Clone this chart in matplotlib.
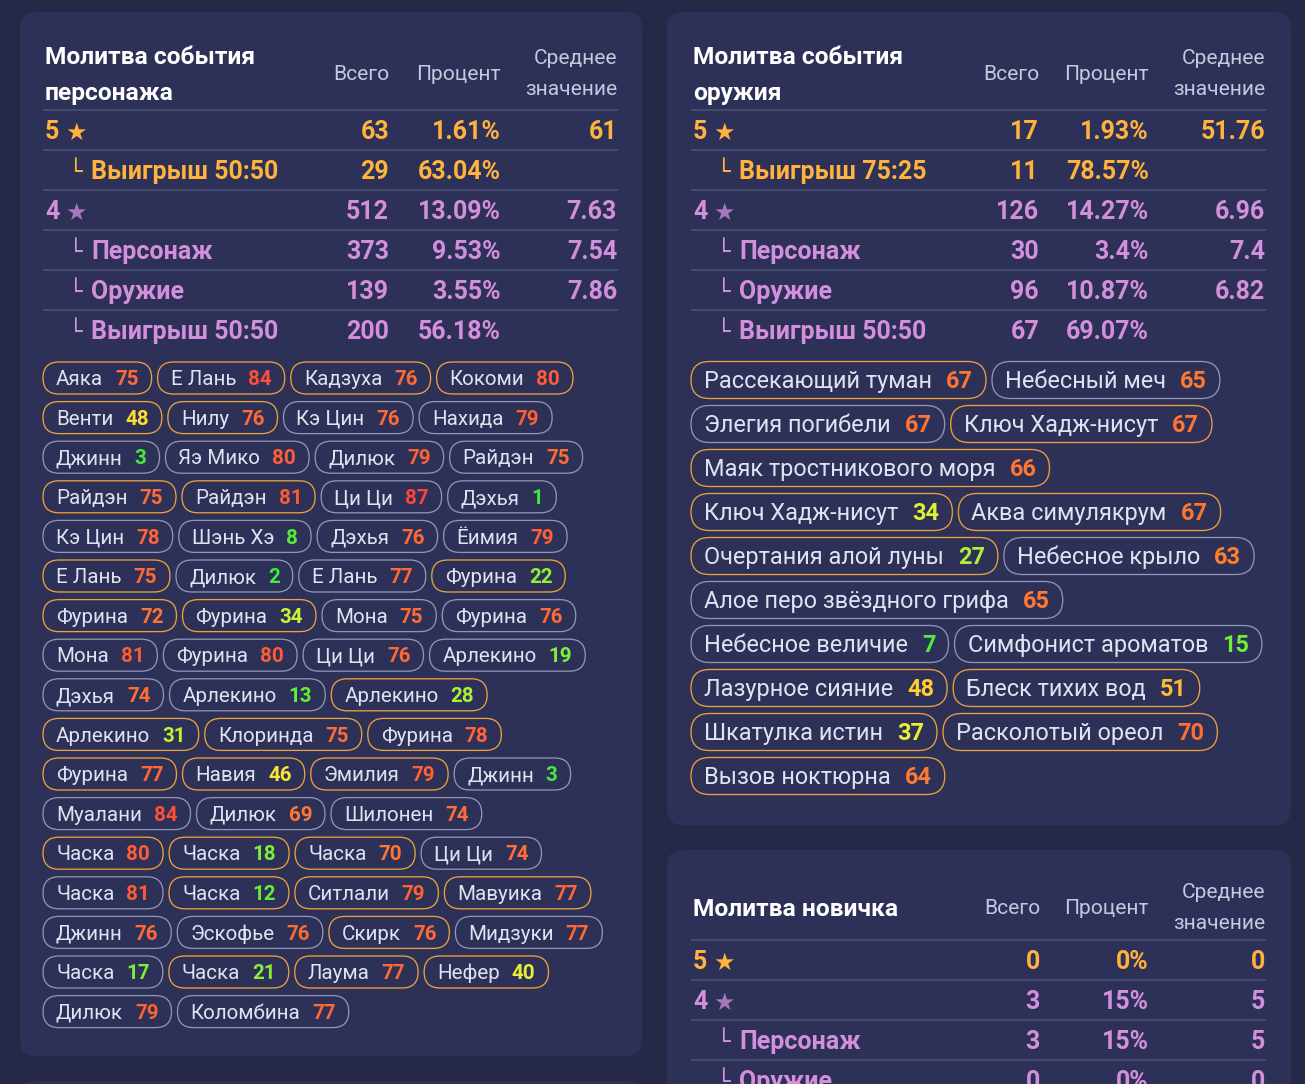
import matplotlib
matplotlib.use("Agg")
import matplotlib.pyplot as plt
from matplotlib.patches import FancyBboxPatch
from matplotlib.colors import LinearSegmentedColormap
from matplotlib.textpath import TextPath
from matplotlib.font_manager import FontProperties
from matplotlib.path import Path
from matplotlib.transforms import Bbox

# ---- data ----
col_headers = ["Всего", "Процент", "Среднее\nзначение"]

char_title = "Молитва события\nперсонажа"
char_labels = ["5", "Выигрыш 50:50", "4", "Персонаж", "Оружие", "Выигрыш 50:50"]
char_tiers = [5, 5, 4, 4, 4, 4]
char_sub = [False, True, False, True, True, True]
char_total = [63, 29, 512, 373, 139, 200]
char_pct = [1.61, 63.04, 13.09, 9.53, 3.55, 56.18]
char_avg = [61, None, 7.63, 7.54, 7.86, None]

weap_title = "Молитва события\nоружия"
weap_labels = ["5", "Выигрыш 75:25", "4", "Персонаж", "Оружие", "Выигрыш 50:50"]
weap_tiers = [5, 5, 4, 4, 4, 4]
weap_sub = [False, True, False, True, True, True]
weap_total = [17, 11, 126, 30, 96, 67]
weap_pct = [1.93, 78.57, 14.27, 3.4, 10.87, 69.07]
weap_avg = [51.76, None, 6.96, 7.4, 6.82, None]

nov_title = "Молитва новичка"
nov_labels = ["5", "4", "Персонаж", "Оружие"]
nov_tiers = [5, 4, 4, 4]
nov_sub = [False, False, True, True]
nov_total = [0, 3, 3, 0]
nov_pct = [0, 15, 15, 0]
nov_avg = [0, 5, 5, 0]

char_pull_names = [
    "Аяка", "Е Лань", "Кадзуха", "Кокоми", "Венти", "Нилу", "Кэ Цин", "Нахида",
    "Джинн", "Яэ Мико", "Дилюк", "Райдэн", "Райдэн", "Райдэн", "Ци Ци", "Дэхья",
    "Кэ Цин", "Шэнь Хэ", "Дэхья", "Ёимия", "Е Лань", "Дилюк", "Е Лань", "Фурина",
    "Фурина", "Фурина", "Мона", "Фурина", "Мона", "Фурина", "Ци Ци", "Арлекино",
    "Дэхья", "Арлекино", "Арлекино", "Арлекино", "Клоринда", "Фурина",
    "Фурина", "Навия", "Эмилия", "Джинн", "Муалани", "Дилюк", "Шилонен",
    "Часка", "Часка", "Часка", "Ци Ци", "Часка", "Часка", "Ситлали", "Мавуика",
    "Джинн", "Эскофье", "Скирк", "Мидзуки", "Часка", "Часка", "Лаума", "Нефер",
    "Дилюк", "Коломбина",
]
char_pull_counts = [
    75, 84, 76, 80, 48, 76, 76, 79,
    3, 80, 79, 75, 75, 81, 87, 1,
    78, 8, 76, 79, 75, 2, 77, 22,
    72, 34, 75, 76, 81, 80, 76, 19,
    74, 13, 28, 31, 75, 78,
    77, 46, 79, 3, 84, 69, 74,
    80, 18, 70, 74, 81, 12, 79, 77,
    76, 76, 76, 77, 17, 21, 77, 40,
    79, 77,
]
char_pull_won = [
    1, 1, 1, 1, 1, 1, 0, 0,
    0, 0, 0, 0, 1, 1, 0, 0,
    0, 0, 0, 0, 1, 0, 0, 1,
    1, 1, 0, 0, 0, 0, 0, 0,
    0, 0, 1, 1, 1, 1,
    1, 1, 1, 0, 0, 0, 0,
    1, 1, 1, 0, 0, 1, 1, 1,
    0, 0, 1, 0, 0, 1, 1, 1,
    0, 0,
]
# how many pulls share each line of the list
char_pull_rows = [4, 4, 4, 4, 4, 4, 4, 4, 3, 3, 4, 3, 4, 4, 4, 4, 2]

weap_pull_names = [
    "Рассекающий туман", "Небесный меч", "Элегия погибели", "Ключ Хадж-нисут",
    "Маяк тростникового моря", "Ключ Хадж-нисут", "Аква симулякрум",
    "Очертания алой луны", "Небесное крыло", "Алое перо звёздного грифа",
    "Небесное величие", "Симфонист ароматов", "Лазурное сияние", "Блеск тихих вод",
    "Шкатулка истин", "Расколотый ореол", "Вызов ноктюрна",
]
weap_pull_counts = [67, 65, 67, 67, 66, 34, 67, 27, 63, 65, 7, 15, 48, 51, 37, 70, 64]
weap_pull_won = [1, 0, 0, 1, 1, 1, 1, 1, 0, 0, 0, 0, 1, 1, 1, 1, 1]
weap_pull_rows = [2, 2, 1, 2, 2, 1, 2, 2, 2, 1]

# ---- style ----
BG = "#252947"
PANEL = "#2d3157"
GOLD = "#ffb23c"
PURPLE = "#d48fdc"
STAR4 = "#a677bd"
HEAD = "#c3c9de"
LINE = "#474d70"
PILL_TXT = "#dfe3f1"
EDGE_WON = "#eca23c"
EDGE_LOST = "#9096b5"
FONT = ["Roboto", "DejaVu Sans"]
PT = 0.72  # pixel -> point at dpi 100

num_cmap = LinearSegmentedColormap.from_list("pity", [
    (0.0, "#3ee83e"), (0.15, "#66ee38"), (0.3, "#a6f035"), (0.42, "#e6f232"),
    (0.52, "#ffe232"), (0.62, "#ffb232"), (0.75, "#ff7a30"), (0.85, "#ff6a34"),
    (0.95, "#ff4a38"), (1.0, "#ff3a3a"),
])

W, H = 1305, 1084
fig = plt.figure(figsize=(W / 100, H / 100), dpi=100)
fig.patch.set_facecolor(BG)
ax = fig.add_axes([0, 0, 1, 1])
ax.set_xlim(0, W)
ax.set_ylim(H, 0)
ax.axis("off")
renderer = fig.canvas.get_renderer()


def ink(ch):
    # ink box of a glyph in em units (closing vertices left out)
    p = TextPath((0, 0), ch, size=1, prop=FontProperties(family="DejaVu Sans"))
    keep = p.codes != Path.CLOSEPOLY
    return Bbox.from_extents(*p.vertices[keep].min(0), *p.vertices[keep].max(0))


STAR_EXT = ink("★")
CORNER_EXT = ink("└")


def put(x, yc, s, px, color, weight="normal", ha="left", family=FONT):
    # baseline placed so that cap height is centred on yc
    return ax.text(x, yc + 0.355 * px, s, fontsize=px * PT, color=color,
                   fontweight=weight, ha=ha, va="baseline", family=family)


def symbol(ch, ext, left, top, bottom, color):
    px = (bottom - top) / ext.height
    ax.text(left - ext.x0 * px, bottom + ext.y0 * px, ch, fontsize=px * PT,
            color=color, ha="left", va="baseline", family=["DejaVu Sans"])


def width(t):
    return t.get_window_extent(renderer).width


def panel(x0, y0, x1, y1):
    ax.add_patch(FancyBboxPatch((x0, y0), x1 - x0, y1 - y0,
                                boxstyle="round,pad=0,rounding_size=16",
                                fc=PANEL, ec="none"))


def fmt(v):
    return "" if v is None else f"{v:g}"


def table(xl, xr, cols, title, title_y, line0, labels, tiers, sub,
          total, pct, avg):
    lines = title.split("\n")
    for k, s in enumerate(lines):
        put(xl + 2, title_y + 36 * k, s, 24.5, "white", "bold")
    mid = title_y + 18 * (len(lines) - 1)
    put(cols[0], mid, col_headers[0], 21, HEAD, ha="right")
    put(cols[1], mid, col_headers[1], 21, HEAD, ha="right")
    for k, s in enumerate(col_headers[2].split("\n")):
        put(cols[2], mid - 16 + 31 * k, s, 21, HEAD, ha="right")
    for i, lab in enumerate(labels):
        yl = line0 + 40 * i
        yc = yl + 20
        ax.plot([xl, xr], [yl, yl], color=LINE, lw=1.3, solid_capstyle="butt")
        col = GOLD if tiers[i] == 5 else PURPLE
        if sub[i]:
            symbol("└", CORNER_EXT, xl + 31, yc - 12, yc + 2.5, col)
            put(xl + 48, yc, lab, 25, col, "bold")
        else:
            t = put(xl + 2, yc, lab, 25, col, "bold")
            symbol("★", STAR_EXT, xl + 10 + width(t), yc - 8, yc + 9.5,
                   GOLD if tiers[i] == 5 else STAR4)
        put(cols[0], yc, str(total[i]), 25, col, "bold", ha="right")
        put(cols[1], yc, fmt(pct[i]) + "%", 25, col, "bold", ha="right")
        put(cols[2], yc, fmt(avg[i]), 25, col, "bold", ha="right")


def pills(x0, y0, pitch, h, px, names, counts, won, rows, vmax, pad, gap, sep):
    ends = [sum(rows[:k + 1]) for k in range(len(rows))]
    x, y = x0, y0
    for i, (name, cnt, w) in enumerate(zip(names, counts, won)):
        tn = put(x + pad, y, name, px, PILL_TXT)
        wn = width(tn)
        tc = put(x + pad + wn + gap, y, str(cnt), px,
                 num_cmap(min(cnt / vmax, 1.0)), "bold")
        pw = pad + wn + gap + width(tc) + pad
        ax.add_patch(FancyBboxPatch((x, y - h / 2), pw, h,
                                    boxstyle=f"round,pad=0,rounding_size={h / 2}",
                                    fc="none", ec=EDGE_WON if w else EDGE_LOST,
                                    lw=1.3 * PT))
        x += pw + sep
        if i + 1 in ends:
            x = x0
            y += pitch


# panels
panel(20, 12, 642, 1056)
panel(667, 12, 1291, 825)
panel(667, 850, 1291, 1120)
panel(20, 1081, 642, 1140)

table(43, 618, [389, 501, 617], char_title, 55, 110, char_labels,
      char_tiers, char_sub, char_total, char_pct, char_avg)
table(691, 1266, [1039, 1149, 1265], weap_title, 55, 110, weap_labels,
      weap_tiers, weap_sub, weap_total, weap_pct, weap_avg)
table(691, 1266, [1040, 1149, 1265], nov_title, 907, 940, nov_labels,
      nov_tiers, nov_sub, nov_total, nov_pct, nov_avg)

pills(43, 378, 39.6, 32, 20.5, char_pull_names, char_pull_counts,
      char_pull_won, char_pull_rows, 90, 13, 12, 6)
pills(691, 380, 44, 37, 23.5, weap_pull_names, weap_pull_counts,
      weap_pull_won, weap_pull_rows, 85, 13, 14, 6)

fig.savefig("out.png", dpi=100, facecolor=BG)
